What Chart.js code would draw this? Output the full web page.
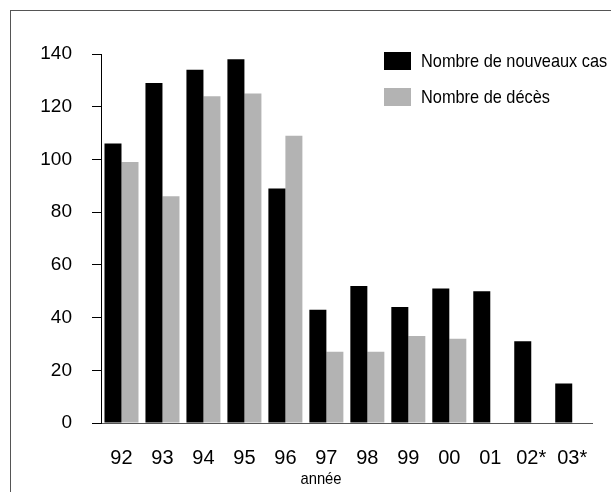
<!DOCTYPE html>
<html>
<head>
<meta charset="utf-8">
<script src="https://cdn.jsdelivr.net/npm/chart.js@4"></script>
<style>
html,body{margin:0;padding:0;background:#fff;}
#wrap{width:611px;height:492px;position:relative;}
</style>
</head>
<body>
<div id="wrap"><canvas id="c" width="611" height="492"></canvas></div>
<script>
const categories = ["92","93","94","95","96","97","98","99","00","01","02*","03*"];
const nouveauxCas = [106,129,134,138,89,43,52,44,51,50,31,15];
const deces = [99,86,124,125,109,27,27,33,32,null,null,null];
const seriesLabels = ["Nombre de nouveaux cas","Nombre de décès"];
const yTicks = [0,20,40,60,80,100,120,140];
const xTitle = "année";

const SANS = '"Liberation Sans", Arial, Helvetica, sans-serif';

function narrowText(ctx, text, x, y, size, align, squeeze) {
  ctx.save();
  ctx.font = size + 'px ' + SANS;
  ctx.textBaseline = 'middle';
  ctx.textAlign = align;
  ctx.translate(x, y);
  ctx.scale(squeeze, 1);
  ctx.fillText(text, 0, 0);
  ctx.restore();
}

const decor = {
  id: 'decor',
  beforeDraw(chart) {
    const ctx = chart.ctx;
    ctx.save();
    ctx.fillStyle = '#fff';
    ctx.fillRect(0, 0, chart.width, chart.height);
    ctx.strokeStyle = '#555';
    ctx.lineWidth = 1;
    ctx.strokeRect(10.5, 10.5, chart.width + 20, chart.height + 20);
    ctx.restore();
  },
  afterDraw(chart) {
    const ctx = chart.ctx;
    ctx.save();
    const ds = chart.data.datasets;
    ds.forEach((d, i) => {
      const y = 52 + i * 36;
      ctx.fillStyle = d.backgroundColor;
      ctx.fillRect(384, y, 27, 18);
      ctx.fillStyle = '#000';
      narrowText(ctx, d.label, 421, y + 9.5, 19, 'left', 0.86);
    });
    ctx.fillStyle = '#000';
    narrowText(ctx, xTitle, 321, 479, 17, 'center', 0.87);
    ctx.restore();
  }
};

new Chart(document.getElementById('c'), {
  type: 'bar',
  data: {
    labels: categories,
    datasets: [
      { label: seriesLabels[0], data: nouveauxCas, backgroundColor: '#000000', borderWidth: 0 },
      { label: seriesLabels[1], data: deces, backgroundColor: '#b3b3b3', borderWidth: 0 }
    ]
  },
  options: {
    responsive: false,
    animation: false,
    events: [],
    layout: { padding: { left: 0, right: 18, top: 54, bottom: 0 } },
    datasets: { bar: { categoryPercentage: 0.83, barPercentage: 1.0 } },
    plugins: { legend: { display: false }, tooltip: { enabled: false }, title: { display: false } },
    scales: {
      x: {
        grid: { display: true, drawOnChartArea: false, drawTicks: false },
        border: { display: true, color: '#555', width: 1 },
        ticks: { color: '#000', font: { family: SANS, size: 20 }, padding: 23, maxRotation: 0, autoSkip: false },
        afterFit(scale) { scale.height = 69; }
      },
      y: {
        min: 0, max: 140,
        afterBuildTicks(scale) { scale.ticks = yTicks.map(v => ({ value: v })); },
        grid: { display: true, drawOnChartArea: false, drawTicks: true, tickLength: 9, color: '#000' },
        border: { display: true, color: '#000', width: 1 },
        ticks: { color: '#000', font: { family: SANS, size: 19 }, padding: 20 },
        afterFit(scale) { scale.width = 101; }
      }
    }
  },
  plugins: [decor]
});
</script>
</body>
</html>
